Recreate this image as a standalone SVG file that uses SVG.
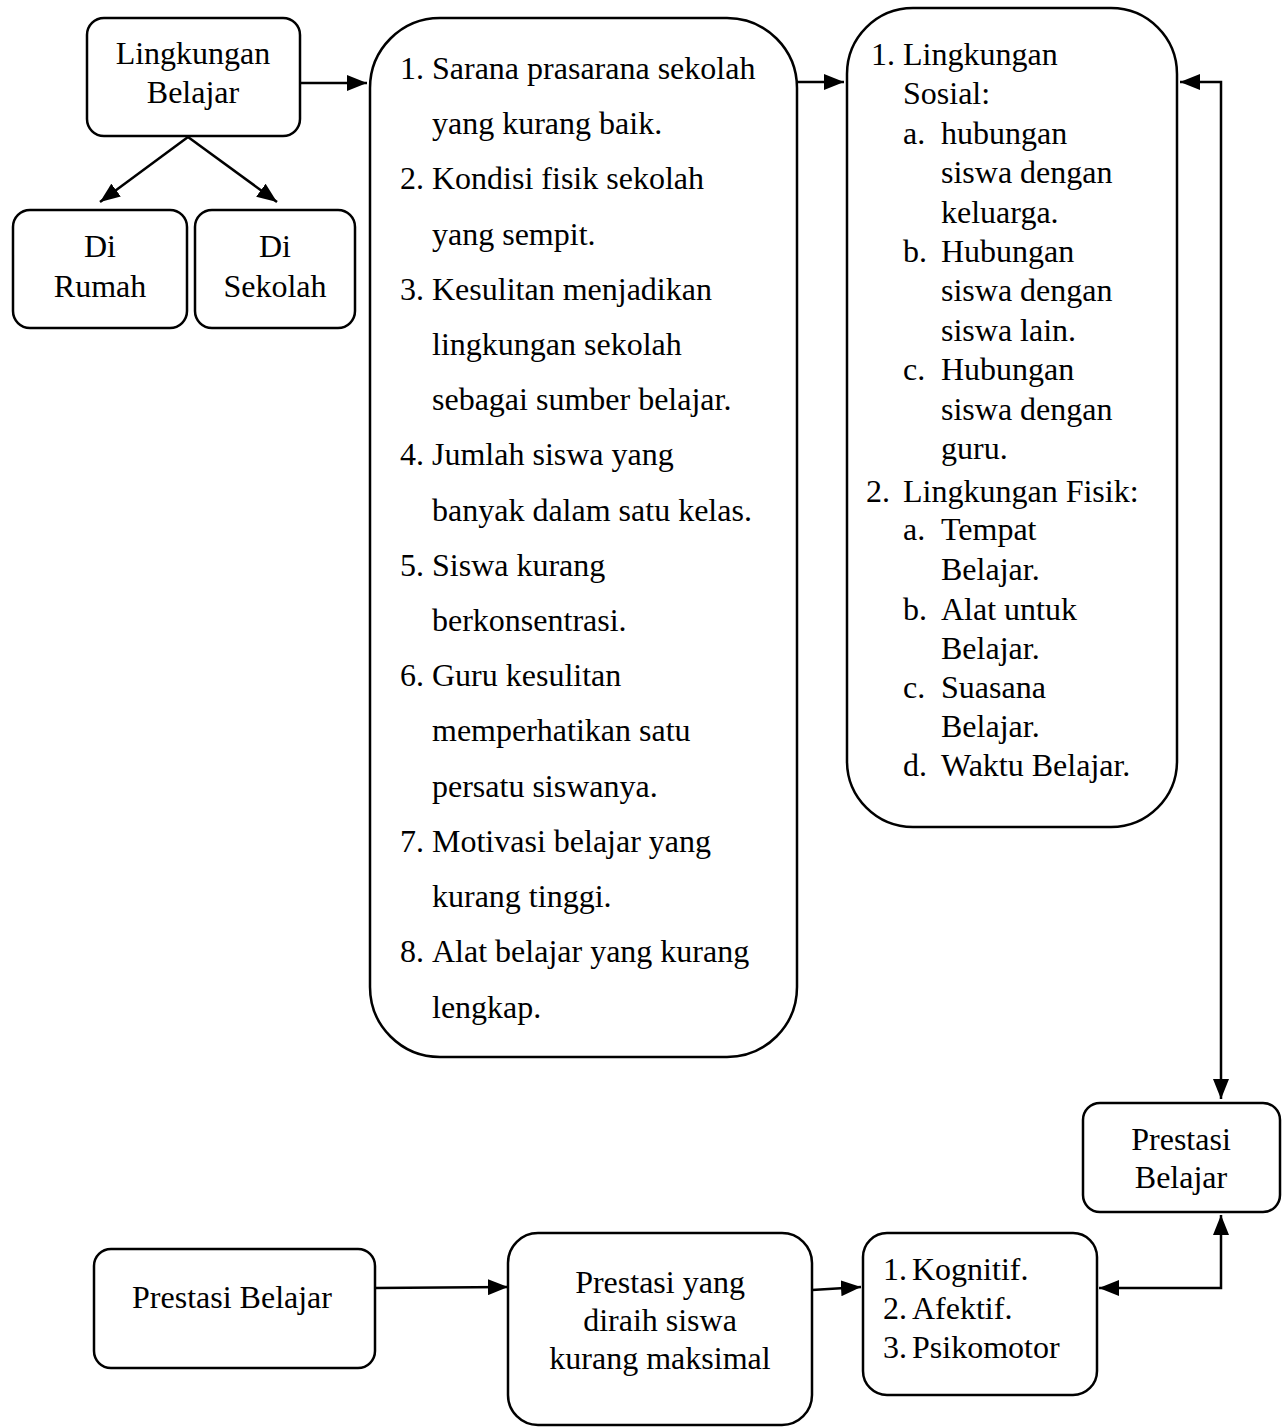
<svg xmlns="http://www.w3.org/2000/svg" width="1288" height="1427" viewBox="0 0 1288 1427">
<defs>
<style>
.box{fill:#fff;stroke:#000;stroke-width:2.5}
.t{font-family:"Liberation Serif","Times New Roman",serif;font-size:32px;fill:#000}
.c{text-anchor:middle}
.ln{fill:none;stroke:#000;stroke-width:2.5}
</style>
<marker id="a" viewBox="0 0 20 16" refX="20" refY="8" markerWidth="20" markerHeight="16" markerUnits="userSpaceOnUse" orient="auto-start-reverse">
<path d="M0,0 L20,8 L0,16 Z" fill="#000"/>
</marker>
</defs>
<rect width="1288" height="1427" fill="#fff"/>
<g id="connectors">
<line class="ln" x1="188" y1="137" x2="100" y2="202" marker-end="url(#a)"/>
<line class="ln" x1="188" y1="137" x2="277" y2="202" marker-end="url(#a)"/>
<line class="ln" x1="300" y1="83" x2="367" y2="83" marker-end="url(#a)"/>
<line class="ln" x1="796" y1="82" x2="844" y2="82" marker-end="url(#a)"/>
<path class="ln" d="M1180,82 H1221 V1099" marker-start="url(#a)" marker-end="url(#a)"/>
<path class="ln" d="M1099,1288 H1221 V1215" marker-start="url(#a)" marker-end="url(#a)"/>
<line class="ln" x1="375" y1="1288" x2="508" y2="1287" marker-end="url(#a)"/>
<line class="ln" x1="812" y1="1290" x2="861" y2="1287" marker-end="url(#a)"/>
</g>
<g id="lingkungan-belajar">
<rect class="box" x="87" y="18" width="213" height="118" rx="17"/>
<text class="t c" x="193" y="64">Lingkungan</text>
<text class="t c" x="193" y="103">Belajar</text>
</g>
<g id="di-rumah">
<rect class="box" x="13" y="210" width="174" height="118" rx="17"/>
<text class="t c" x="100" y="257">Di</text>
<text class="t c" x="100" y="297">Rumah</text>
</g>
<g id="di-sekolah">
<rect class="box" x="195" y="210" width="160" height="118" rx="17"/>
<text class="t c" x="275" y="257">Di</text>
<text class="t c" x="275" y="297">Sekolah</text>
</g>
<g id="masalah">
<rect class="box" x="370" y="18" width="427" height="1039" rx="70"/>
<g class="t">
<text x="400" y="79">1.</text><text x="432" y="79">Sarana prasarana sekolah</text>
<text x="432" y="134">yang kurang baik.</text>
<text x="400" y="189">2.</text><text x="432" y="189">Kondisi fisik sekolah</text>
<text x="432" y="245">yang sempit.</text>
<text x="400" y="300">3.</text><text x="432" y="300">Kesulitan menjadikan</text>
<text x="432" y="355">lingkungan sekolah</text>
<text x="432" y="410">sebagai sumber belajar.</text>
<text x="400" y="465">4.</text><text x="432" y="465">Jumlah siswa yang</text>
<text x="432" y="521">banyak dalam satu kelas.</text>
<text x="400" y="576">5.</text><text x="432" y="576">Siswa kurang</text>
<text x="432" y="631">berkonsentrasi.</text>
<text x="400" y="686">6.</text><text x="432" y="686">Guru kesulitan</text>
<text x="432" y="741">memperhatikan satu</text>
<text x="432" y="797">persatu siswanya.</text>
<text x="400" y="852">7.</text><text x="432" y="852">Motivasi belajar yang</text>
<text x="432" y="907">kurang tinggi.</text>
<text x="400" y="962">8.</text><text x="432" y="962">Alat belajar yang kurang</text>
<text x="432" y="1018">lengkap.</text>
</g>
</g>
<g id="lingkungan">
<rect class="box" x="847" y="8" width="330" height="819" rx="66"/>
<g class="t">
<text x="871" y="65">1.</text><text x="903" y="65">Lingkungan</text>
<text x="903" y="104">Sosial:</text>
<text x="903" y="144">a.</text><text x="941" y="144">hubungan</text>
<text x="941" y="183">siswa dengan</text>
<text x="941" y="223">keluarga.</text>
<text x="903" y="262">b.</text><text x="941" y="262">Hubungan</text>
<text x="941" y="301">siswa dengan</text>
<text x="941" y="341">siswa lain.</text>
<text x="903" y="380">c.</text><text x="941" y="380">Hubungan</text>
<text x="941" y="420">siswa dengan</text>
<text x="941" y="459">guru.</text>
<text x="866" y="502">2.</text><text x="903" y="502">Lingkungan Fisik:</text>
<text x="903" y="540">a.</text><text x="941" y="540">Tempat</text>
<text x="941" y="580">Belajar.</text>
<text x="903" y="620">b.</text><text x="941" y="620">Alat untuk</text>
<text x="941" y="659">Belajar.</text>
<text x="903" y="698">c.</text><text x="941" y="698">Suasana</text>
<text x="941" y="737">Belajar.</text>
<text x="903" y="776">d.</text><text x="941" y="776">Waktu Belajar.</text>
</g>
</g>
<g id="prestasi-belajar-right">
<rect class="box" x="1083" y="1103" width="197" height="109" rx="17"/>
<text class="t c" x="1181" y="1150">Prestasi</text>
<text class="t c" x="1181" y="1188">Belajar</text>
</g>
<g id="prestasi-belajar-left">
<rect class="box" x="94" y="1249" width="281" height="119" rx="17"/>
<text class="t c" x="232" y="1308">Prestasi Belajar</text>
</g>
<g id="prestasi-kurang">
<rect class="box" x="508" y="1233" width="304" height="192" rx="30"/>
<text class="t c" x="660" y="1293">Prestasi yang</text>
<text class="t c" x="660" y="1331">diraih siswa</text>
<text class="t c" x="660" y="1369">kurang maksimal</text>
</g>
<g id="ranah">
<rect class="box" x="863" y="1233" width="234" height="162" rx="24"/>
<g class="t">
<text x="883" y="1280">1.</text><text x="912" y="1280">Kognitif.</text>
<text x="883" y="1319">2.</text><text x="912" y="1319">Afektif.</text>
<text x="883" y="1358">3.</text><text x="912" y="1358">Psikomotor</text>
</g>
</g>
</svg>
